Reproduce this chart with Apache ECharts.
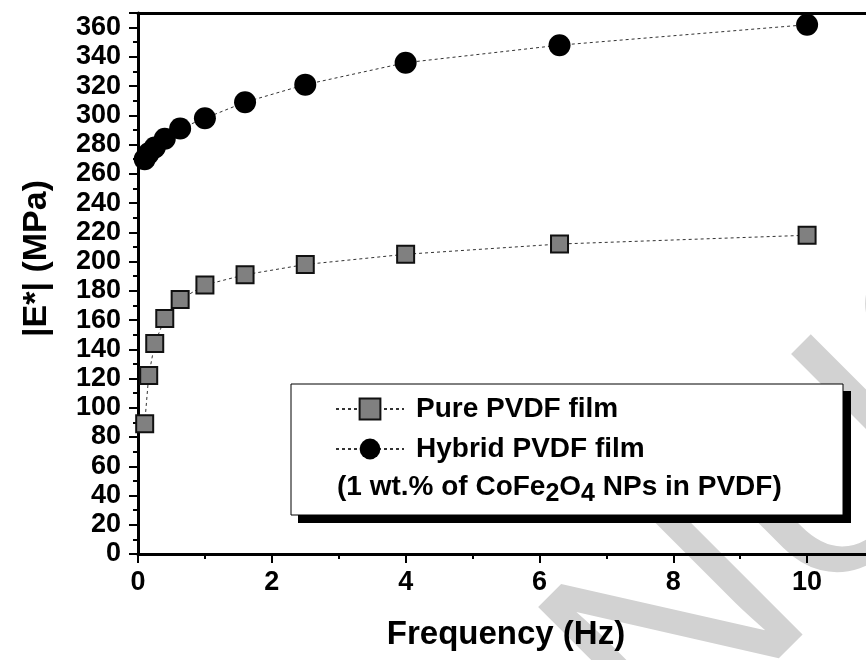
<!DOCTYPE html>
<html><head><meta charset="utf-8">
<script src="https://cdn.jsdelivr.net/npm/echarts@6/dist/echarts.min.js"></script>
<style>html,body{margin:0;padding:0;background:#fff}#c{width:866px;height:660px}</style>
</head><body><div id="c"></div>
<script>
// ---- data ----
const frequency = [0.1, 0.16, 0.25, 0.4, 0.63, 1, 1.6, 2.5, 4, 6.3, 10];
const purePVDF = [89, 122, 144, 161, 174, 184, 191, 198, 205, 212, 218];
const hybridPVDF = [270, 274, 278, 284, 291, 298, 309, 321, 336, 348, 362];
const seriesNames = ['Pure PVDF film', 'Hybrid PVDF film'];
const xTitle = 'Frequency (Hz)';
const yTitle = '|E*| (MPa)';
const noteParts = ['(1 wt.% of CoFe', '2', 'O', '4', ' NPs in PVDF)'];

const F = '"Liberation Sans", Arial, sans-serif';
const chart = echarts.init(document.getElementById('c'), null, {renderer: 'canvas'});

const tickLbl = {fontSize: 27, fontWeight: 'bold', color: '#000', fontFamily: F};

chart.setOption({
  animation: false,
  backgroundColor: '#fff',
  grid: {left: 138, top: 13, right: -8, bottom: 106, outerBoundsMode: 'none', containLabel: false},
  xAxis: [{
    type: 'value', min: 0, max: 11, interval: 2, position: 'bottom',
    axisLine: {show: true, onZero: false, lineStyle: {color: '#000', width: 3}},
    axisTick: {show: true, inside: false, length: 9, lineStyle: {color: '#000', width: 2}},
    minorTick: {show: true, splitNumber: 2, length: 5, lineStyle: {color: '#000', width: 2}},
    splitLine: {show: false},
    axisLabel: Object.assign({margin: 15, showMaxLabel: false}, tickLbl),
    name: xTitle, nameLocation: 'middle', nameGap: 64,
    nameTextStyle: {fontSize: 33, fontWeight: 'bold', color: '#000', fontFamily: F}
  }, {
    type: 'value', min: 0, max: 11, position: 'top',
    axisLine: {show: true, onZero: false, lineStyle: {color: '#000', width: 3}},
    axisTick: {show: false}, axisLabel: {show: false}, splitLine: {show: false}
  }],
  yAxis: {
    type: 'value', min: 0, max: 370, interval: 20,
    axisLine: {show: true, lineStyle: {color: '#000', width: 3}},
    axisTick: {show: true, inside: false, length: 9, lineStyle: {color: '#000', width: 2}},
    minorTick: {show: true, splitNumber: 2, length: 5, lineStyle: {color: '#000', width: 2}},
    splitLine: {show: false},
    axisLabel: Object.assign({margin: 17, showMaxLabel: false}, tickLbl),
    name: yTitle, nameLocation: 'middle', nameGap: 84, nameRotate: 90,
    nameTextStyle: {fontSize: 34, fontWeight: 'bold', color: '#000', fontFamily: F, padding: [0, 0, 0, 50]}
  },
  legend: {
    left: 335, top: 395, orient: 'vertical', padding: 0, z: 6,
    itemWidth: 68, itemHeight: 26, itemGap: 12,
    textStyle: {fontSize: 28, fontWeight: 'bold', color: '#000', fontFamily: F, padding: [0, 0, 0, 7]},
    data: seriesNames
  },
  graphic: [
    {type: 'text', x: 290, y: 1030, rotation: Math.PI / 4, z: -10, silent: true,
     style: {text: 'MANUSCRIPT', fontSize: 300, fontFamily: F, fill: '#d2d2d2', align: 'left', verticalAlign: 'middle'}},
    {type: 'rect', z: 5, shape: {x: 298, y: 391, width: 553, height: 132}, style: {fill: '#000'}},
    {type: 'rect', z: 5, shape: {x: 291, y: 384, width: 552, height: 131}, style: {fill: '#fff', stroke: '#000', lineWidth: 1}},
    {type: 'text', z: 6, x: 337, y: 487,
     style: {
       text: '{m|' + noteParts[0] + '}{s|' + noteParts[1] + '}{m|' + noteParts[2] + '}{s|' + noteParts[3] + '}{m|' + noteParts[4] + '}',
       verticalAlign: 'middle', align: 'left', fill: '#000',
       rich: {
         m: {fontSize: 28, fontWeight: 'bold', fontFamily: F, lineHeight: 30, fill: '#000'},
         s: {fontSize: 25, fontWeight: 'bold', fontFamily: F, lineHeight: 14, padding: [14, 0, 0, 0], fill: '#000'}
       }
     }}
  ],
  series: [{
    type: 'line', name: seriesNames[0],
    data: frequency.map((f, i) => [f, purePVDF[i]]),
    symbol: 'rect', symbolSize: 17,
    itemStyle: {color: '#808080', borderColor: '#111', borderWidth: 2},
    lineStyle: {color: '#333', width: 1, type: [3, 3]},
    emphasis: {disabled: true}, z: 3
  }, {
    type: 'line', name: seriesNames[1],
    data: frequency.map((f, i) => [f, hybridPVDF[i]]),
    symbol: 'circle', symbolSize: 22,
    itemStyle: {color: '#000'},
    lineStyle: {color: '#333', width: 1, type: [3, 3]},
    emphasis: {disabled: true}, z: 3
  }]
});
</script></body></html>
